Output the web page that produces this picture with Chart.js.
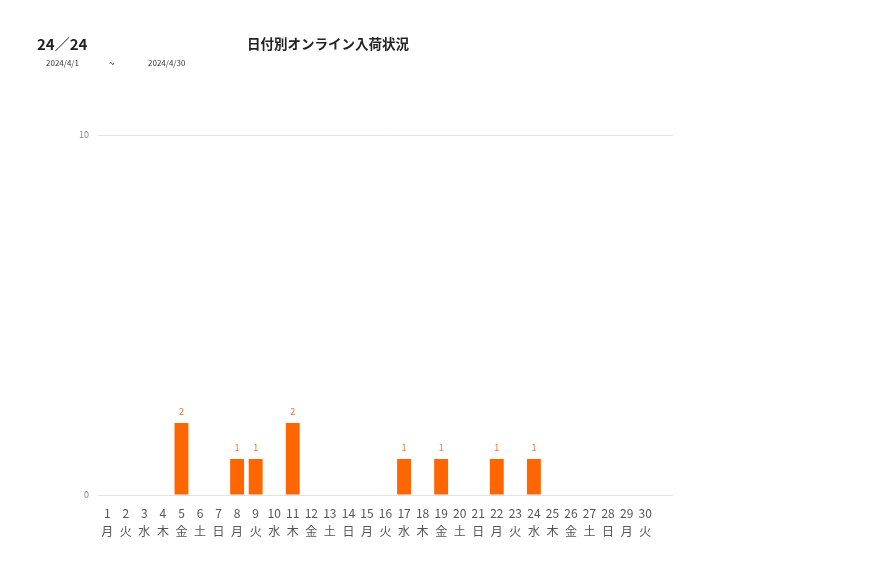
<!DOCTYPE html>
<html>
<head>
<meta charset="utf-8">
<script src="https://cdn.jsdelivr.net/npm/chart.js@4"></script>
<style>
  body { margin: 0; background: #fff; font-family: "Noto Sans CJK JP", sans-serif; }
  #wrap { position: relative; width: 877px; height: 578px; }
  #chart { position: absolute; left: 0; top: 0; }
  .hd { position: absolute; color: #222; white-space: nowrap; }
  #count { left: 37px; top: 33px; font-size: 15px; font-weight: bold; }
  #title { left: 247px; top: 33px; font-size: 13.5px; font-weight: bold; }
  .dt { position: absolute; top: 57px; font-size: 8px; color: #333; }
  #tilde { top: 55px; font-size: 10px; }
</style>
</head>
<body>
<div id="wrap">
  <canvas id="chart" width="877" height="578"></canvas>
  <div class="hd" id="count">24／24</div>
  <div class="hd" id="title">日付別オンライン入荷状況</div>
  <div class="dt" style="left:46px">2024/4/1</div>
  <div class="dt" id="tilde" style="left:109px">~</div>
  <div class="dt" style="left:148px">2024/4/30</div>
</div>
<script>
// April 2024, day numbers and weekdays (template has 31 slots, last empty)
const days = ['1','2','3','4','5','6','7','8','9','10','11','12','13','14','15','16','17','18','19','20','21','22','23','24','25','26','27','28','29','30',''];
const weekdays = ['月','火','水','木','金','土','日','月','火','水','木','金','土','日','月','火','水','木','金','土','日','月','火','水','木','金','土','日','月','火',''];
const arrivals = [0,0,0,0,2,0,0,1,1,0,2,0,0,0,0,0,1,0,1,0,0,1,0,1,0,0,0,0,0,0,null];
const yTicks = [0, 10];

const labels = days.map((d, i) => d === '' ? '' : [d, weekdays[i]]);

// small value labels above the bars
const valueLabels = {
  id: 'valueLabels',
  afterDatasetsDraw(chart) {
    const ctx = chart.ctx;
    const meta = chart.getDatasetMeta(0);
    ctx.save();
    ctx.font = '9px "Noto Sans CJK JP", sans-serif';
    ctx.fillStyle = '#e8772e';
    ctx.textAlign = 'center';
    ctx.textBaseline = 'middle';
    meta.data.forEach((bar, i) => {
      const v = arrivals[i];
      if (v) ctx.fillText(v, bar.x, bar.y - 11);
    });
    ctx.restore();
  }
};

const ctx = document.getElementById('chart').getContext('2d');
const chart = new Chart(ctx, {
  type: 'bar',
  data: {
    labels: labels,
    datasets: [{
      label: '入荷',
      data: arrivals,
      backgroundColor: '#ff6600',
      barPercentage: 0.75,
      categoryPercentage: 1
    }]
  },
  options: {
    responsive: false,
    animation: false,
    layout: { padding: { left: 68, right: 204, top: 135, bottom: 33 } },
    scales: {
      x: {
        grid: { display: false, drawTicks: false },
        border: { display: false },
        ticks: {
          color: '#555',
          padding: 9,
          maxRotation: 0,
          autoSkip: false,
          font: { size: 12, family: '"Noto Sans CJK JP", sans-serif', lineHeight: 1.5 }
        },
        afterFit: s => { s.height = 50; }
      },
      y: {
        min: 0,
        max: 10,
        afterBuildTicks: s => { s.ticks = yTicks.map(v => ({ value: v })); },
        grid: { color: '#e2e2e2', drawTicks: false },
        border: { display: false },
        ticks: {
          color: '#888',
          padding: 9,
          font: { size: 9, family: '"Noto Sans CJK JP", sans-serif' }
        },
        afterFit: s => { s.width = 30; }
      }
    },
    plugins: {
      legend: { display: false },
      tooltip: { enabled: false }
    }
  },
  plugins: [valueLabels]
});
</script>
</body>
</html>
